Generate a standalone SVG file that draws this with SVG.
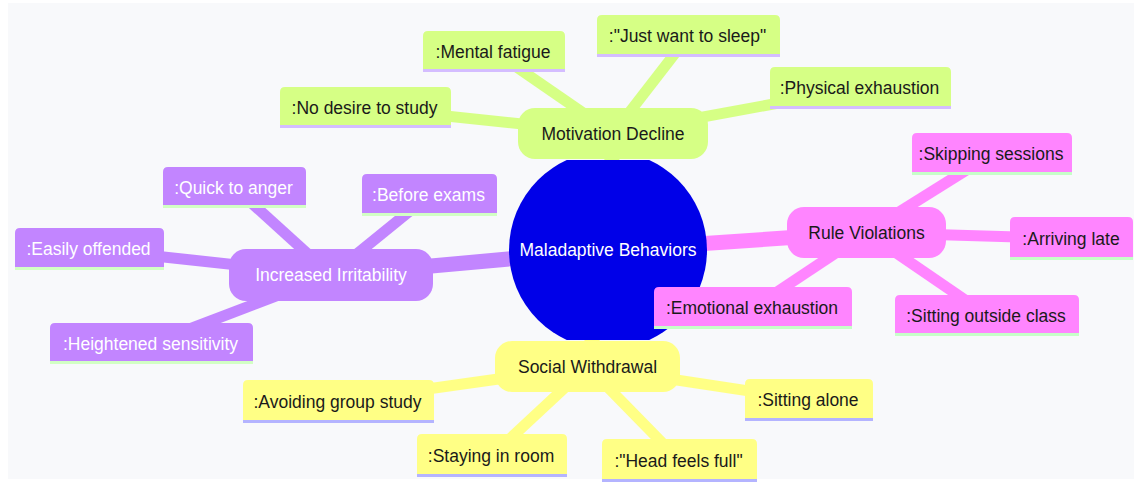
<svg xmlns="http://www.w3.org/2000/svg" width="1134" height="486" viewBox="0 0 1134 486">
<style>
text{font-family:"Liberation Sans",Arial,sans-serif;font-size:17.5px;text-anchor:middle;fill:#1a1a1a}
.e{fill:none;stroke-linecap:butt}
.e0{stroke-width:15}
.e1{stroke-width:11}
.cg{stroke:#d6ff85}.cp{stroke:#c285ff}.ck{stroke:#ff85ff}.cy{stroke:#ffff85}
.fg{fill:#d6ff85}.fp{fill:#c285ff}.fk{fill:#ff85ff}.fy{fill:#ffff85}
.ug{stroke:#d4bdff}.up{stroke:#d2ffc4}.uk{stroke:#c6ffc8}.uy{stroke:#b4b4ff}
.ul{stroke-width:3}
.w{fill:#ffffff}
</style>
<defs>
<clipPath id="rc"><rect x="500" y="160" width="220" height="180"/></clipPath>
</defs>
<rect x="0" y="0" width="1134" height="486" fill="#ffffff"/>
<rect x="8" y="3" width="1126" height="476" fill="#f8f9fb"/>
<g id="connectors">
<line class="e e0 cg" x1="608" y1="250" x2="613" y2="133.5"/>
<line class="e e0 cp" x1="608" y1="250" x2="331" y2="275"/>
<line class="e e0 ck" x1="608" y1="250" x2="866.5" y2="232.5"/>
<line class="e e0 cy" x1="608" y1="250" x2="587.5" y2="366.5"/>
<line class="e e1 cg" x1="613" y1="133.5" x2="494" y2="51.5"/>
<line class="e e1 cg" x1="613" y1="133.5" x2="365.5" y2="107.5"/>
<line class="e e1 cg" x1="613" y1="133.5" x2="688.5" y2="36"/>
<line class="e e1 cg" x1="613" y1="133.5" x2="860.5" y2="88"/>
<line class="e e1 cp" x1="331" y1="275" x2="234.5" y2="187.5"/>
<line class="e e1 cp" x1="331" y1="275" x2="429.5" y2="195"/>
<line class="e e1 cp" x1="331" y1="275" x2="89.5" y2="249"/>
<line class="e e1 cp" x1="331" y1="275" x2="151.5" y2="343.5"/>
<line class="e e1 ck" x1="866.5" y1="232.5" x2="992" y2="154"/>
<line class="e e1 ck" x1="866.5" y1="232.5" x2="1071.5" y2="238.5"/>
<line class="e e1 ck" x1="866.5" y1="232.5" x2="753" y2="308"/>
<line class="e e1 ck" x1="866.5" y1="232.5" x2="987" y2="315"/>
<line class="e e1 cy" x1="587.5" y1="366.5" x2="338.5" y2="401.5"/>
<line class="e e1 cy" x1="587.5" y1="366.5" x2="492" y2="455.5"/>
<line class="e e1 cy" x1="587.5" y1="366.5" x2="679.5" y2="460.5"/>
<line class="e e1 cy" x1="587.5" y1="366.5" x2="809" y2="400"/>
</g>
<g id="root">
<circle cx="608" cy="250" r="99" fill="#0000e8" clip-path="url(#rc)"/>
<text class="w" x="608" y="256">Maladaptive Behaviors</text>
</g>
<g id="motivation-decline">
<rect class="fg" x="518" y="108" width="190" height="51" rx="17"/>
<text x="613" y="139.5">Motivation Decline</text>
</g>
<g id="increased-irritability">
<rect class="fp" x="229" y="249" width="204" height="52" rx="17"/>
<text class="w" x="331" y="281">Increased Irritability</text>
</g>
<g id="rule-violations">
<rect class="fk" x="787" y="207" width="159" height="51" rx="17"/>
<text x="866.5" y="238.5">Rule Violations</text>
</g>
<g id="social-withdrawal">
<rect class="fy" x="495" y="341" width="185" height="51" rx="17"/>
<text x="587.5" y="372.5">Social Withdrawal</text>
</g>
<g id="mental-fatigue" transform="translate(423,31)">
<path class="fg" d="M0,41 V5 Q0,0 5,0 H137 Q142,0 142,5 V41 Z"/>
<line class="ul ug" x1="0" y1="39.5" x2="142" y2="39.5"/>
<text x="70" y="26.5">:Mental fatigue</text>
</g>
<g id="no-desire" transform="translate(280,87)">
<path class="fg" d="M0,41 V5 Q0,0 5,0 H166 Q171,0 171,5 V41 Z"/>
<line class="ul ug" x1="0" y1="39.5" x2="171" y2="39.5"/>
<text x="84.5" y="26.5">:No desire to study</text>
</g>
<g id="just-want-to-sleep" transform="translate(597,15)">
<path class="fg" d="M0,42 V5 Q0,0 5,0 H178 Q183,0 183,5 V42 Z"/>
<line class="ul ug" x1="0" y1="40.5" x2="183" y2="40.5"/>
<text x="90.5" y="27">:"Just want to sleep"</text>
</g>
<g id="physical-exhaustion" transform="translate(770,67)">
<path class="fg" d="M0,42 V5 Q0,0 5,0 H176 Q181,0 181,5 V42 Z"/>
<line class="ul ug" x1="0" y1="40.5" x2="181" y2="40.5"/>
<text x="89.5" y="27">:Physical exhaustion</text>
</g>
<g id="quick-to-anger" transform="translate(163,167)">
<path class="fp" d="M0,41 V5 Q0,0 5,0 H138 Q143,0 143,5 V41 Z"/>
<line class="ul up" x1="0" y1="39.5" x2="143" y2="39.5"/>
<text class="w" x="70.5" y="26.5">:Quick to anger</text>
</g>
<g id="before-exams" transform="translate(362,174)">
<path class="fp" d="M0,42 V5 Q0,0 5,0 H130 Q135,0 135,5 V42 Z"/>
<line class="ul up" x1="0" y1="40.5" x2="135" y2="40.5"/>
<text class="w" x="66.5" y="27">:Before exams</text>
</g>
<g id="easily-offended" transform="translate(15,228)">
<path class="fp" d="M0,42 V5 Q0,0 5,0 H144 Q149,0 149,5 V42 Z"/>
<line class="ul up" x1="0" y1="40.5" x2="149" y2="40.5"/>
<text class="w" x="73.5" y="27">:Easily offended</text>
</g>
<g id="heightened-sensitivity" transform="translate(50,323)">
<path class="fp" d="M0,41 V5 Q0,0 5,0 H198 Q203,0 203,5 V41 Z"/>
<line class="ul up" x1="0" y1="39.5" x2="203" y2="39.5"/>
<text class="w" x="100.5" y="26.5">:Heightened sensitivity</text>
</g>
<g id="skipping-sessions" transform="translate(912,133)">
<path class="fk" d="M0,42 V5 Q0,0 5,0 H155 Q160,0 160,5 V42 Z"/>
<line class="ul uk" x1="0" y1="40.5" x2="160" y2="40.5"/>
<text x="79" y="27">:Skipping sessions</text>
</g>
<g id="arriving-late" transform="translate(1010,217)">
<path class="fk" d="M0,43 V5 Q0,0 5,0 H118 Q123,0 123,5 V43 Z"/>
<line class="ul uk" x1="0" y1="41.5" x2="123" y2="41.5"/>
<text x="61" y="27.5">:Arriving late</text>
</g>
<g id="emotional-exhaustion" transform="translate(654,287)">
<path class="fk" d="M0,42 V5 Q0,0 5,0 H193 Q198,0 198,5 V42 Z"/>
<line class="ul uk" x1="0" y1="40.5" x2="198" y2="40.5"/>
<text x="98" y="27">:Emotional exhaustion</text>
</g>
<g id="sitting-outside-class" transform="translate(895,295)">
<path class="fk" d="M0,41 V5 Q0,0 5,0 H179 Q184,0 184,5 V41 Z"/>
<line class="ul uk" x1="0" y1="39.5" x2="184" y2="39.5"/>
<text x="91" y="27">:Sitting outside class</text>
</g>
<g id="avoiding-group-study" transform="translate(243,380)">
<path class="fy" d="M0,43 V5 Q0,0 5,0 H186 Q191,0 191,5 V43 Z"/>
<line class="ul uy" x1="0" y1="41.5" x2="191" y2="41.5"/>
<text x="94.5" y="27.5">:Avoiding group study</text>
</g>
<g id="staying-in-room" transform="translate(417,434)">
<path class="fy" d="M0,43 V5 Q0,0 5,0 H145 Q150,0 150,5 V43 Z"/>
<line class="ul uy" x1="0" y1="41.5" x2="150" y2="41.5"/>
<text x="74" y="27.5">:Staying in room</text>
</g>
<g id="head-feels-full" transform="translate(602,439)">
<path class="fy" d="M0,43 V5 Q0,0 5,0 H150 Q155,0 155,5 V43 Z"/>
<line class="ul uy" x1="0" y1="41.5" x2="155" y2="41.5"/>
<text x="76.5" y="27.5">:"Head feels full"</text>
</g>
<g id="sitting-alone" transform="translate(745,379)">
<path class="fy" d="M0,42 V5 Q0,0 5,0 H123 Q128,0 128,5 V42 Z"/>
<line class="ul uy" x1="0" y1="40.5" x2="128" y2="40.5"/>
<text x="63" y="27">:Sitting alone</text>
</g>
</svg>
